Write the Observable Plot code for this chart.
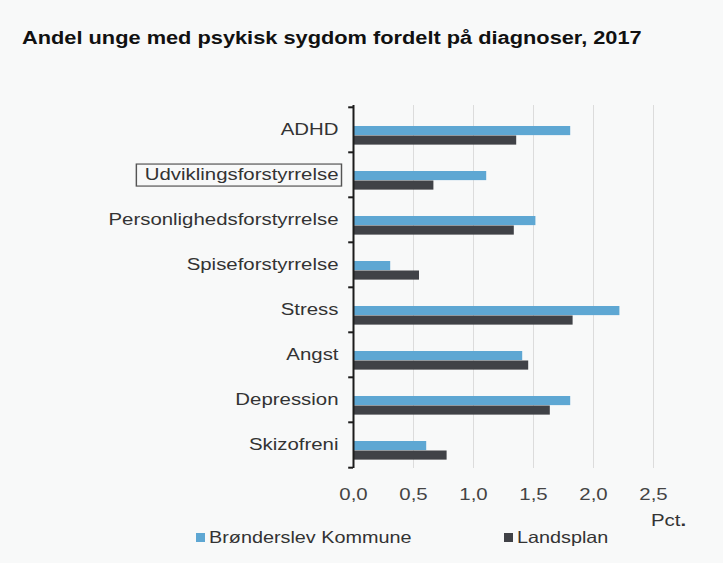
<!DOCTYPE html>
<html><head><meta charset="utf-8">
<script src="https://cdn.jsdelivr.net/npm/d3@7"></script>
<script src="https://cdn.jsdelivr.net/npm/@observablehq/plot@0.6"></script>
<style>
body{margin:0;background:#f8f9f9;font-family:"Liberation Sans",Arial,sans-serif;}
#wrap{position:relative;width:723px;height:563px;overflow:hidden;background:#f8f9f9;}
#title{position:absolute;left:22px;top:28px;font-weight:bold;font-size:18px;color:#111;white-space:nowrap;transform:scaleX(1.21);transform-origin:0 0;}
#chart{position:absolute;left:0;top:90px;}
.leg{position:absolute;top:528px;font-size:16.5px;color:#333;white-space:nowrap;display:flex;align-items:center;}
.leg .tx{display:inline-block;transform:scaleX(1.2);transform-origin:0 50%;}
.sw{width:9px;height:9px;display:inline-block;margin-right:4px;}
#pct{position:absolute;left:651px;top:511px;font-size:17px;color:#333;transform:scaleX(1.2);transform-origin:0 0;}
</style></head>
<body><div id="wrap">
<div id="title">Andel unge med psykisk sygdom fordelt på diagnoser, 2017</div>
<div id="chart"></div>
<div id="pct">Pct<b>.</b></div>
<div class="leg" id="leg0" style="left:196px"></div>
<div class="leg" id="leg1" style="left:504px"></div>
</div>
<script>
const categories = ["ADHD","Udviklingsforstyrrelse","Personlighedsforstyrrelse","Spiseforstyrrelse","Stress","Angst","Depression","Skizofreni"];
const broenderslev = [1.81,1.11,1.52,0.31,2.22,1.41,1.81,0.61];
const landsplan = [1.36,0.67,1.34,0.55,1.83,1.46,1.64,0.78];
const xTicks = [0,0.5,1,1.5,2,2.5];
const seriesNames = ["Brønderslev Kommune","Landsplan"];
const seriesColors = ["#5ea7d3","#404247"];
const highlighted = "Udviklingsforstyrrelse";

const rowsB = categories.map((c,i)=>({category:c, value:broenderslev[i]}));
const rowsL = categories.map((c,i)=>({category:c, value:landsplan[i]}));

const H = 420, mT = 15, mB = 42;
const band = (H - mT - mB) / categories.length;
const fmt = d => d.toFixed(1).replace(".", ",");

const chart = Plot.plot({
  width: 723, height: H,
  marginLeft: 353, marginRight: 22, marginTop: mT, marginBottom: mB,
  style: {background: "transparent", fontFamily: '"Liberation Sans", Arial, sans-serif', overflow: "visible"},
  x: {domain: [0, 2.9], label: null},
  y: {domain: categories, padding: 0, label: null},
  marks: [
    Plot.ruleX(xTicks.slice(1), {stroke: "#dcdcdc", strokeWidth: 1}),
    Plot.barX(rowsB, {x: "value", y: "category", fill: seriesColors[0], insetTop: 19, insetBottom: band - 28.5}),
    Plot.barX(rowsL, {x: "value", y: "category", fill: seriesColors[1], insetTop: 28.5, insetBottom: band - 38}),
    Plot.ruleX([0], {stroke: "#1c1c1c", strokeWidth: 2}),
    Plot.ruleY(categories, {y: d => d, x1: -0.04, x2: 0, dy: -band/2, stroke: "#1c1c1c", strokeWidth: 2}),
    Plot.ruleY(categories.slice(-1), {y: d => d, x1: -0.04, x2: 0, dy: band/2, stroke: "#1c1c1c", strokeWidth: 2}),
    Plot.axisX({ticks: xTicks, tickFormat: fmt, tickSize: 0, tickPadding: 19, fontSize: 17, fill: "#444", label: null}),
    Plot.axisY({tickSize: 0, tickPadding: 15, fontSize: 17, fill: "#333", label: null})
  ]
});
document.getElementById("chart").appendChild(chart);

// horizontal stretch of axis labels (as in the reference)
for (const g of chart.querySelectorAll("g[aria-label$='tick label']")) {
  for (const t of g.querySelectorAll("text")) {
    const tr = t.getAttribute("transform") || "";
    t.setAttribute("transform", tr + " scale(1.2,1)");
  }
}

// box around highlighted label
for (const t of chart.querySelectorAll("text")) {
  if (t.textContent === highlighted) {
    const bb = t.getBBox();
    const r = document.createElementNS("http://www.w3.org/2000/svg", "rect");
    r.setAttribute("x", bb.x - 7);
    r.setAttribute("y", bb.y - 1);
    r.setAttribute("width", bb.width + 9.5);
    r.setAttribute("height", bb.height + 3);
    r.setAttribute("fill", "none");
    r.setAttribute("stroke", "#555");
    r.setAttribute("stroke-width", 1.2);
    const tr = t.getAttribute("transform");
    if (tr) r.setAttribute("transform", tr);
    t.parentNode.insertBefore(r, t);
  }
}

seriesNames.forEach((n,i)=>{
  const el = document.getElementById("leg"+i);
  const sw = document.createElement("span");
  sw.className = "sw"; sw.style.background = seriesColors[i];
  el.appendChild(sw);
  const tx = document.createElement("span");
  tx.className = "tx"; tx.textContent = n;
  el.appendChild(tx);
});
</script>
</body></html>
